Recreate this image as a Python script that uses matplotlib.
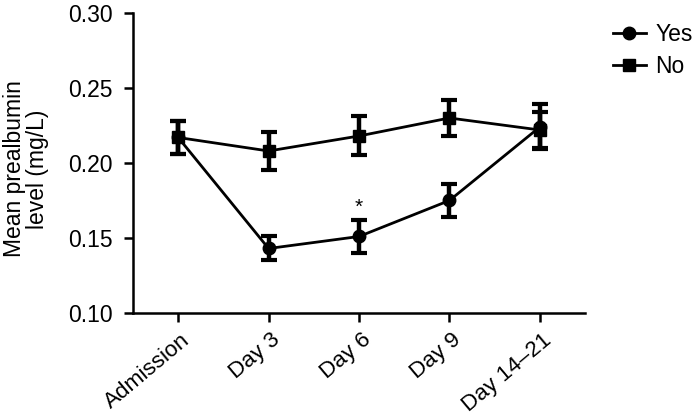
import matplotlib.pyplot as plt

plt.rcParams['font.family'] = ['Liberation Sans', 'DejaVu Sans']

# Datos
dias = ["Admission", "Day 3", "Day 6", "Day 9", "Day 14\u201321"]
media_si = [0.217, 0.143, 0.151, 0.175, 0.224]
error_si = [0.011, 0.008, 0.011, 0.011, 0.015]
media_no = [0.217, 0.208, 0.218, 0.230, 0.222]
error_no = [0.011, 0.0125, 0.013, 0.012, 0.012]

x = list(range(len(dias)))

fig = plt.figure(figsize=(6.94, 4.16), dpi=100)
ax = fig.add_axes([0.1916, 0.2476, 0.6514, 0.7212])

# Barras de error
for medias, errores in [(media_si, error_si), (media_no, error_no)]:
    ax.errorbar(x, medias, yerr=errores, fmt='none', ecolor='black',
                elinewidth=3.2, capsize=6, capthick=3, zorder=2)

# Líneas con marcadores
ax.plot(x, media_si, color='black', lw=2, marker='o', ms=9, label='Yes', zorder=3)
ax.plot(x, media_no, color='black', lw=2, marker='s', ms=8.5, label='No', zorder=3)

# Asterisco de significación en el día 6
ax.annotate('*', xy=(2, media_si[2] + error_si[2]), xytext=(0, 2),
            textcoords='offset points', ha='center', va='bottom', fontsize=15)

ax.set_xlim(-0.5, 4.5)
ax.set_ylim(0.10, 0.30)
ax.set_yticks([0.10, 0.15, 0.20, 0.25, 0.30])
ax.set_yticklabels(['0.10', '0.15', '0.20', '0.25', '0.30'])
ax.set_xticks(x)
ax.set_xticklabels([])

# Etiquetas del eje x giradas unos 40 grados
for i, dia in zip(x, dias):
    ax.annotate(dia, xy=(i, 0), xycoords=ax.get_xaxis_transform(),
                xytext=(1.6, -11.8), textcoords='offset points',
                rotation=40, ha='right', va='top', rotation_mode='anchor',
                fontsize=16.2)

ax.spines['top'].set_visible(False)
ax.spines['right'].set_visible(False)
ax.spines['left'].set_linewidth(1.8)
ax.spines['bottom'].set_linewidth(1.8)
ax.tick_params(axis='both', direction='out', length=6.5, width=1.8, labelsize=16.5)
ax.tick_params(axis='y', pad=8)

ax.set_ylabel("Mean prealbumin\nlevel (mg/L)", fontsize=16.5, linespacing=1.0)
ax.yaxis.set_label_coords(-0.185, 0.48)

ax.legend(loc='upper left', bbox_to_anchor=(0.883, 0.944), bbox_transform=fig.transFigure,
          frameon=False, fontsize=16.5, handlelength=1.45, handletextpad=0.4,
          labelspacing=0.4, borderaxespad=0.0, borderpad=0.0)

fig.savefig('out.png', dpi=100)
